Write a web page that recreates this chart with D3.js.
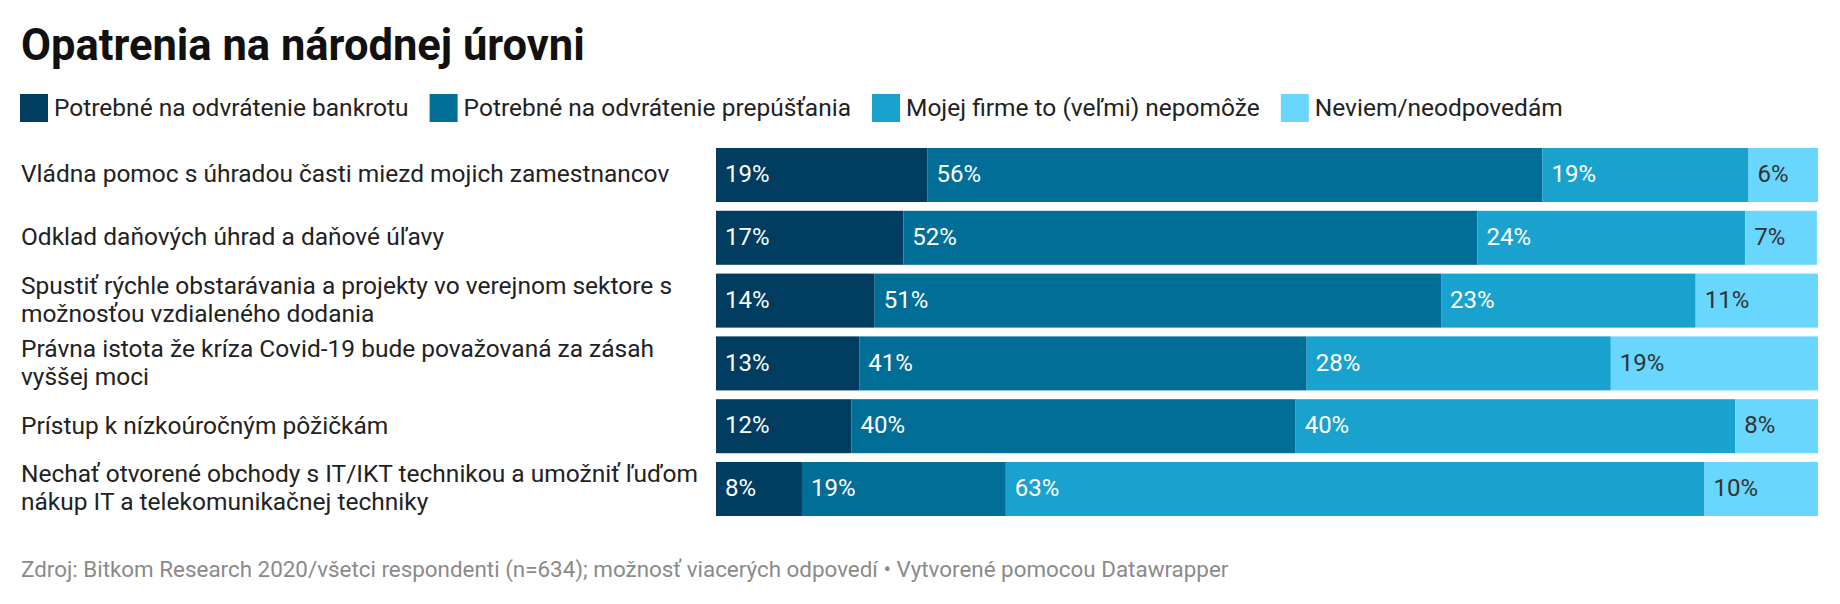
<!DOCTYPE html>
<html>
<head>
<meta charset="utf-8">
<script src="https://cdnjs.cloudflare.com/ajax/libs/d3/7.8.5/d3.min.js"></script>
<title>Opatrenia na národnej úrovni</title>
<style>
  body { margin: 0; background: #fff; }
  text { font-family: Roboto, "Noto Sans", sans-serif; }
</style>
</head>
<body>
<div id="chart"></div>
<script>
  var title = "Opatrenia na národnej úrovni";
  var footer = "Zdroj: Bitkom Research 2020/všetci respondenti (n=634); možnosť viacerých odpovedí • Vytvorené pomocou Datawrapper";

  // "\n" marks where the label wraps in the original
  var categories = [
    "Vládna pomoc s úhradou časti miezd mojich zamestnancov",
    "Odklad daňových úhrad a daňové úľavy",
    "Spustiť rýchle obstarávania a projekty vo verejnom sektore s\nmožnosťou vzdialeného dodania",
    "Právna istota že kríza Covid-19 bude považovaná za zásah\nvyššej moci",
    "Prístup k nízkoúročným pôžičkám",
    "Nechať otvorené obchody s IT/IKT technikou a umožniť ľuďom\nnákup IT a telekomunikačnej techniky"
  ];
  var series = [
    "Potrebné na odvrátenie bankrotu",
    "Potrebné na odvrátenie prepúšťania",
    "Mojej firme to (veľmi) nepomôže",
    "Neviem/neodpovedám"
  ];
  var bankrot     = [19.2, 17.0, 14.4, 13.0, 12.3, 7.8];
  var prepustanie = [55.8, 52.1, 51.4, 40.6, 40.3, 18.5];
  var nepomoze    = [18.7, 24.3, 23.1, 27.6, 39.9, 63.4];
  var neviem      = [6.3, 6.5, 11.1, 18.8, 7.5, 10.3];
  var colors = ["#003d60", "#006e96", "#1aa2ce", "#68d6fd"];
  var labelColors = ["#fff", "#fff", "#fff", "#333"];

  var W = 1840, H = 604;
  var svg = d3.select("#chart").append("svg").attr("width", W).attr("height", H);

  svg.append("text").attr("x", 21).attr("y", 60)
    .attr("font-size", 43.5).attr("font-weight", 700).attr("fill", "#111")
    .text(title);

  // legend, laid out by measured text width
  var lx = 20;
  series.forEach(function(s, i) {
    var g = svg.append("g").attr("transform", "translate(" + lx + ",94)");
    g.append("rect").attr("width", 28).attr("height", 28).attr("fill", colors[i]);
    var t = g.append("text").attr("x", 34).attr("y", 22)
      .attr("font-size", 24.5).attr("fill", "#222").text(s);
    lx += 34 + t.node().getComputedTextLength() + 21;
  });

  var rows = categories.map(function(c, i) {
    return {cat: c, s0: bankrot[i], s1: prepustanie[i], s2: nepomoze[i], s3: neviem[i]};
  });
  var keys = ["s0", "s1", "s2", "s3"];
  var stacked = d3.stack().keys(keys)(rows);

  var x = d3.scaleLinear().domain([0, 100]).range([716, 1818]);
  var y = d3.scaleBand().domain(categories).range([148, 516]).paddingInner(0.14).paddingOuter(0);

  var layer = svg.selectAll("g.layer").data(stacked).enter().append("g").attr("class", "layer");
  layer.each(function(L, k) {
    var g = d3.select(this);
    g.selectAll("rect").data(L).enter().append("rect")
      .attr("x", function(d) { return x(d[0]); })
      .attr("y", function(d) { return y(d.data.cat); })
      .attr("width", function(d) { return x(d[1]) - x(d[0]); })
      .attr("height", y.bandwidth())
      .attr("fill", colors[k]);
    g.selectAll("text").data(L).enter().append("text")
      .attr("x", function(d) { return x(d[0]) + 9; })
      .attr("y", function(d) { return y(d.data.cat) + y.bandwidth() / 2; })
      .attr("dy", "0.3em")
      .attr("font-size", 24)
      .attr("fill", labelColors[k])
      .text(function(d) { return Math.round(d[1] - d[0]) + "%"; });
  });

  // row labels
  categories.forEach(function(c) {
    var lines = c.split("\n");
    var lh = 27.7;
    var cy = y(c) + y.bandwidth() / 2 - (lines.length - 1) * lh / 2;
    var t = svg.append("text").attr("font-size", 24.5).attr("fill", "#222");
    lines.forEach(function(l, j) {
      t.append("tspan").attr("x", 21).attr("y", cy + j * lh).attr("dy", "0.3em").text(l);
    });
  });

  svg.append("text").attr("x", 21).attr("y", 577)
    .attr("font-size", 22.4).attr("fill", "#8a8a8a")
    .text(footer);
</script>
</body>
</html>
